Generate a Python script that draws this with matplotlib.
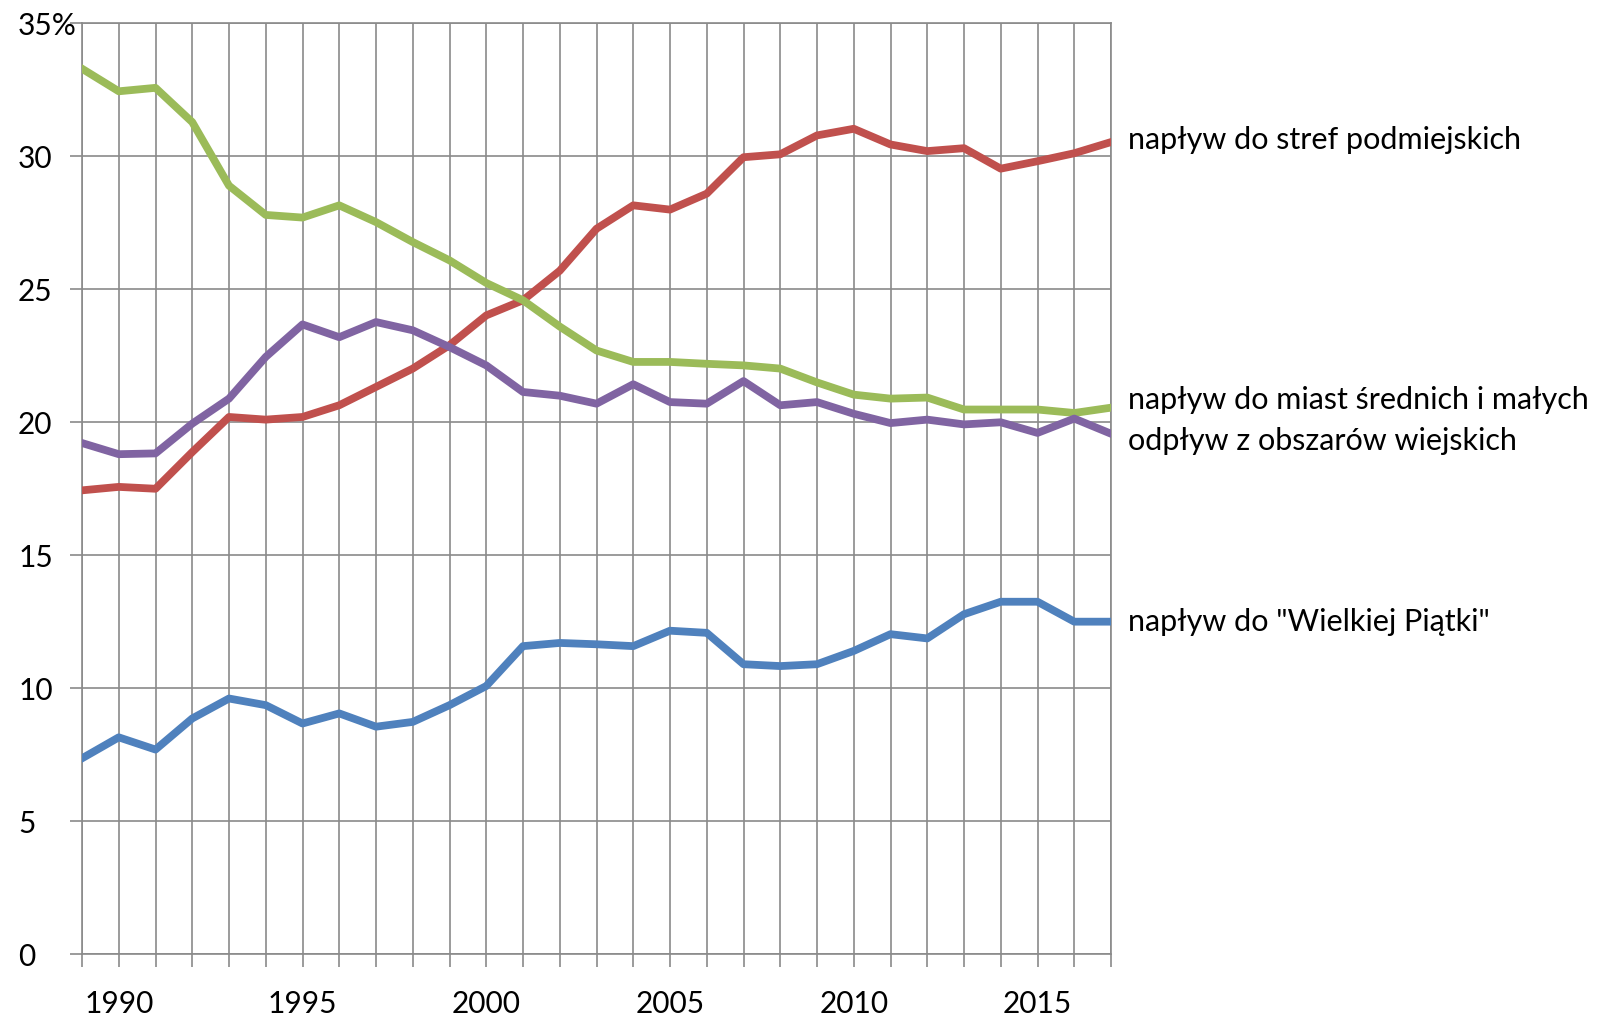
import matplotlib
matplotlib.use("Agg")
import matplotlib.pyplot as plt
import matplotlib.transforms as mtransforms
from matplotlib.ticker import FixedLocator

plt.rcParams['font.family'] = ['Lato', 'DejaVu Sans']

years = list(range(1989, 2018))

suburbs = [17.44, 17.57, 17.5, 18.88, 20.2, 20.1, 20.2, 20.64, 21.33, 22.02,
           22.9, 24.02, 24.59, 25.7, 27.28, 28.16, 28.0, 28.6, 29.97, 30.08,
           30.79, 31.04, 30.45, 30.2, 30.31, 29.54, 29.82, 30.12, 30.54]
medium_small = [33.3, 32.45, 32.58, 31.29, 28.9, 27.8, 27.7, 28.16, 27.53, 26.78,
                26.09, 25.24, 24.59, 23.6, 22.7, 22.27, 22.27, 22.2, 22.14, 22.02,
                21.5, 21.04, 20.89, 20.93, 20.48, 20.48, 20.48, 20.35, 20.55]
rural = [19.22, 18.8, 18.83, 19.95, 20.89, 22.46, 23.68, 23.2, 23.77, 23.46,
         22.83, 22.14, 21.14, 21.0, 20.7, 21.43, 20.76, 20.7, 21.55, 20.64,
         20.76, 20.32, 19.97, 20.1, 19.92, 20.0, 19.6, 20.14, 19.57]
big_five = [7.36, 8.15, 7.69, 8.86, 9.61, 9.36, 8.67, 9.05, 8.55, 8.73,
            9.36, 10.08, 11.58, 11.7, 11.65, 11.58, 12.16, 12.08, 10.9, 10.83,
            10.9, 11.4, 12.03, 11.87, 12.78, 13.25, 13.25, 12.5, 12.5]

labels = ['napływ do stref podmiejskich',
          'napływ do miast średnich i małych',
          'odpływ z obszarów wiejskich',
          'napływ do "Wielkiej Piątki"']
label_y = [30.6, 20.85, 19.3, 12.5]

y_ticks = [0, 5, 10, 15, 20, 25, 30, 35]
y_ticklabels = ['0', '5', '10', '15', '20', '25', '30', '35%']
x_labeled = [1990, 1995, 2000, 2005, 2010, 2015]

colors = ['#C0504D', '#9BBB59', '#8064A2', '#4F81BD']
series = [suburbs, medium_small, rural, big_five]

fig = plt.figure(figsize=(16.03, 10.19), dpi=100)
ax = fig.add_axes([82/1603, 1-954/1019, (1111-82)/1603, (954-23.5)/1019])

grid_c = '#8a8a8a'
for s, c in zip(series, colors):
    ax.plot(years, s, color=c, lw=5.6, solid_joinstyle='round', zorder=3)

ax.set_xlim(1989, 2017)
ax.set_ylim(0, 35)
ax.xaxis.set_major_locator(FixedLocator(years))
ax.set_xticklabels([str(y) if y in x_labeled else '' for y in years])
ax.set_yticks(y_ticks)
ax.set_yticklabels(y_ticklabels)
ax.grid(True, color=grid_c, lw=1.2, zorder=1)
for sp in ax.spines.values():
    sp.set_color(grid_c)
    sp.set_linewidth(1.2)
ax.tick_params(axis='x', length=9, width=1.2, color=grid_c, labelsize=21.5, pad=17)
ax.tick_params(axis='y', length=9, width=1.2, color=grid_c, labelsize=21.5, pad=37)
for t in ax.get_yticklabels():
    t.set_horizontalalignment('left')

trans = mtransforms.blended_transform_factory(fig.transFigure, ax.transData)
for lab, yv in zip(labels, label_y):
    fig.text(1128/1603, yv, lab, fontsize=22, va='center', ha='left',
             transform=trans)

fig.savefig('out.png', dpi=100, facecolor='white')
